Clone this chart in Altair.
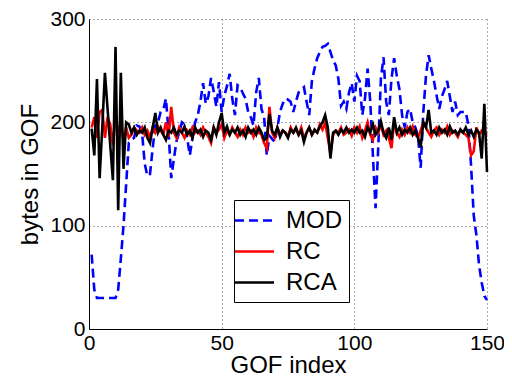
import altair as alt
import pandas as pd

gof = list(range(1, 151))

mod = [72, 38, 30, 30, 30, 30, 30, 30, 30, 30,
       38, 68, 100, 140, 180, 183, 185, 197, 196, 190,
       160, 148, 150, 175, 197, 200, 210, 212, 223, 190,
       146, 165, 182, 190, 200, 198, 185, 168, 185, 200,
       207, 220, 238, 218, 225, 243, 230, 215, 239, 210,
       226, 235, 247, 223, 207, 236, 234, 228, 223, 210,
       205, 197, 229, 243, 213, 205, 168, 187, 184, 181,
       195, 210, 218, 223, 222, 220, 210, 220, 229, 232,
       234, 220, 207, 240, 252, 262, 268, 273, 274, 276,
       268, 260, 255, 242, 216, 220, 213, 229, 238, 220,
       245, 240, 207, 223, 252, 220, 168, 117, 175, 242,
       263, 220, 207, 242, 262, 245, 232, 207, 195, 210,
       213, 200, 195, 187, 156, 210, 245, 265, 252, 240,
       226, 213, 225, 232, 240, 225, 210, 220, 207, 210,
       210, 210, 197, 158, 110, 91, 62, 45, 32, 28]

rc = [195, 205, 185, 210, 212, 185, 205, 198, 178, 205,
      190, 200, 182, 195, 185, 188, 195, 192, 190, 195,
      188, 192, 185, 195, 190, 196, 192, 188, 200, 186,
      215, 190, 185, 195, 190, 185, 192, 188, 195, 190,
      192, 188, 195, 190, 186, 180, 195, 190, 193, 198,
      185, 192, 188, 195, 190, 186, 193, 188, 195, 190,
      192, 186, 195, 190, 188, 180, 175, 215, 190, 185,
      195, 188, 192, 190, 186, 195, 190, 193, 188, 195,
      185, 190, 195, 188, 192, 190, 198, 193, 200, 185,
      170, 188, 192, 190, 195, 188, 190, 193, 187, 195,
      190, 196, 185, 192, 200, 188, 183, 195, 190, 198,
      188, 192, 185, 175, 200, 190, 186, 193, 188, 195,
      190, 196, 188, 185, 192, 200, 195, 190, 186, 192,
      195, 188, 193, 190, 196, 188, 192, 190, 186, 193,
      190, 188, 185, 168, 172, 195, 188, 192, 190, 188]

rca = [194, 168, 242, 146, 195, 248, 213, 178, 144, 273,
       115, 248, 155, 200, 198, 190, 195, 188, 192, 190,
       195, 185, 180, 195, 209, 190, 195, 188, 183, 192,
       190, 195, 188, 192, 190, 196, 188, 192, 185, 195,
       190, 193, 186, 192, 190, 183, 195, 188, 200, 209,
       190, 196, 188, 193, 190, 195, 188, 192, 186, 195,
       190, 193, 188, 195, 190, 183, 185, 208, 192, 188,
       195, 186, 192, 190, 185, 193, 190, 195, 188, 192,
       181, 190, 195, 188, 193, 190, 196, 200, 207, 195,
       165, 190, 192, 188, 193, 190, 195, 190, 193, 190,
       195, 190, 192, 186, 195, 190, 198, 188, 192, 201,
       190, 185, 195, 183, 205, 190, 195, 188, 193, 190,
       195, 188, 192, 185, 176, 200, 195, 212, 190, 192,
       188, 195, 190, 193, 188, 196, 190, 192, 188, 193,
       190, 195, 188, 192, 186, 193, 190, 165, 218, 152]

series = ["MOD", "RC", "RCA"]
colors = ["#0000FF", "#FF0000", "#000000"]
dashes = [[9, 5], [1, 0], [1, 0]]
x_ticks = [0, 50, 100, 150]
y_ticks = [0, 100, 200, 300]

rows = []
for name, vals in zip(series, [mod, rc, rca]):
    for g, v in zip(gof, vals):
        rows.append({"gof": g, "bytes": v, "series": name})
df = pd.DataFrame(rows)

font = "Liberation Sans"

chart = alt.Chart(df).mark_line(strokeWidth=2.6).encode(
    x=alt.X("gof:Q", scale=alt.Scale(domain=[0, 150], nice=False),
            axis=alt.Axis(values=x_ticks, title="GOF index", labelPadding=3,
                          titleBaseline="alphabetic", titlePadding=19)),
    y=alt.Y("bytes:Q", scale=alt.Scale(domain=[0, 300], nice=False),
            axis=alt.Axis(values=y_ticks, title="bytes in GOF", labelPadding=4,
                          titlePadding=7)),
    color=alt.Color("series:N", scale=alt.Scale(domain=series, range=colors), title=None),
    strokeDash=alt.StrokeDash("series:N", scale=alt.Scale(domain=series, range=dashes), title=None),
).properties(
    width=398, height=310,
    autosize=alt.AutoSizeParams(type="none"),
    padding={"left": 81, "top": 11, "right": 17, "bottom": 48},
).configure_view(
    stroke=None
).configure_axis(
    labelFont=font, titleFont=font, labelFontSize=21, titleFontSize=24,
    labelColor="black", titleColor="black", titleFontWeight="normal",
    domainColor="black", domainWidth=1, tickSize=0,
    labelFlush=False, labelOverlap=False,
    grid=True, gridColor="#333333", gridDash=[1, 3], gridWidth=0.8,
).configure_legend(
    orient="none", legendX=145, legendY=181,
    labelFont=font, labelFontSize=24, labelColor="black",
    symbolType="M-1.625,0H1.625", symbolSize=576, symbolStrokeWidth=2.5,
    strokeColor="black", fillColor="white", padding=7,
    rowPadding=5, labelOffset=18, cornerRadius=0,
)

chart.save("out.html", embed_options={"renderer": "svg", "actions": False})
